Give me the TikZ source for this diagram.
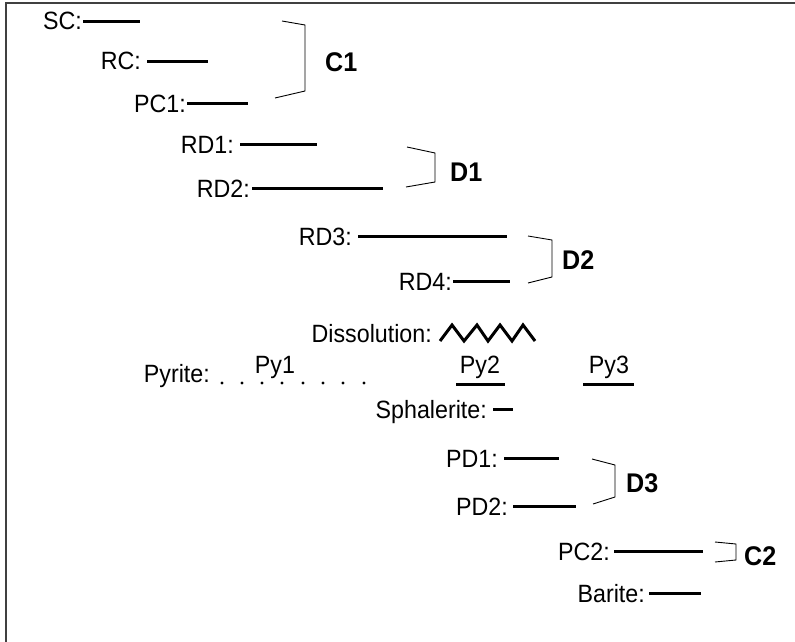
\documentclass[tikz,border=0pt]{standalone}
\usepackage{fontspec}
\setmainfont[FakeStretch=0.93]{Liberation Sans}
\begin{document}
\begin{tikzpicture}[x=1pt,y=-1pt,
  lbl/.style={inner sep=0pt, text height=16.5pt, text depth=0pt, anchor=base east, font=\fontsize{25}{30}\selectfont},
  plain/.style={inner sep=0pt, anchor=base, font=\fontsize{25}{30}\selectfont},
  grp/.style={inner sep=0pt, anchor=base west, font=\fontsize{27}{32}\selectfont\bfseries},
  bar/.style={line width=3pt},
  brk/.style={line width=0.9pt, line join=miter},
  frame/.style={line width=1.3pt, draw=black!75}]
\useasboundingbox (0,0) rectangle (795,642);
\draw[frame] (6,642) -- (6,3) -- (795,3);

% labels with bars
\node[lbl] (sc) at (82,30) {SC:};
\coordinate (sce) at (140,23);
\draw[bar] ([xshift=1pt]sc.east) -- (sc.east -| sce);

\node[lbl] (rc) at (141,70) {RC:};
\coordinate (rce) at (208,62);
\draw[bar] ([xshift=6pt]rc.east) -- (rc.east -| rce);

\node[lbl] (pc1) at (186,112) {PC1:};
\coordinate (pc1e) at (248,104);
\draw[bar] ([xshift=1pt]pc1.east) -- (pc1.east -| pc1e);

\node[lbl] (rd1) at (234,153) {RD1:};
\coordinate (rd1e) at (317,146);
\draw[bar] ([xshift=6pt]rd1.east) -- (rd1.east -| rd1e);

\node[lbl] (rd2) at (250,197) {RD2:};
\coordinate (rd2e) at (383,189);
\draw[bar] ([xshift=2pt]rd2.east) -- (rd2.east -| rd2e);

\node[lbl] (rd3) at (352,245) {RD3:};
\coordinate (rd3e) at (507,237);
\draw[bar] ([xshift=6pt]rd3.east) -- (rd3.east -| rd3e);

\node[lbl] (rd4) at (452,290) {RD4:};
\coordinate (rd4e) at (510,283);
\draw[bar] ([xshift=1pt]rd4.east) -- (rd4.east -| rd4e);

\node[lbl] (sph) at (487,418) {Sphalerite:};
\coordinate (sphe) at (513,413);
\draw[bar] ([xshift=6pt]sph.east) -- (sph.east -| sphe);

\node[lbl] (pd1) at (498,467) {PD1:};
\coordinate (pd1e) at (559,460);
\draw[bar] ([xshift=6pt]pd1.east) -- (pd1.east -| pd1e);

\node[lbl] (pd2) at (508,515) {PD2:};
\coordinate (pd2e) at (576,508);
\draw[bar] ([xshift=5pt]pd2.east) -- (pd2.east -| pd2e);

\node[lbl] (pc2) at (610,560) {PC2:};
\coordinate (pc2e) at (703,551);
\draw[bar] ([xshift=4pt]pc2.east) -- (pc2.east -| pc2e);

\node[lbl] (bar) at (645,602) {Barite:};
\coordinate (bare) at (701,595);
\draw[bar] ([xshift=4pt]bar.east) -- (bar.east -| bare);

% brackets and group labels
\draw[brk] (282,21) -- (305,25) -- (305,91) -- (275,98);
\node[grp] (c1) at (325,72) {C1};
\draw[brk] (407,147) -- (435,153) -- (435,182) -- (406,187);
\node[grp] (d1) at (450,181) {D1};
\draw[brk] (528,236) -- (552,240) -- (552,277) -- (528,283);
\node[grp] (d2) at (562,269) {D2};
\draw[brk] (592,459) -- (615,465) -- (615,497) -- (593,504);
\node[grp] (d3) at (626,492) {D3};
\draw[brk] (715,542) -- (736,544) -- (736,560) -- (715,562);
\node[grp] (c2) at (744,565) {C2};

% dissolution
\node[lbl] (diss) at (432,342) {Dissolution:};
\draw[line width=3pt, line join=miter, miter limit=4]
  (440,341) -- (452,325) -- (464,341) -- (477,325) -- (488,341) -- (500,325)
  -- (512,341) -- (523,325) -- (535,341);

% pyrite
\node[lbl] (pyr) at (210,382) {Pyrite:};
\foreach \x in {222,242,262,282,303,323,343,364}
  \fill (\x,383) circle (1.7);
\node[plain] (py1) at (275,373) {Py1};
\node[plain] (py2) at (480,373) {Py2};
\coordinate (py2a) at (456,384);
\coordinate (py2b) at (505,384);
\draw[bar] (py2a) -- (py2b);
\node[plain] (py3) at (609,373) {Py3};
\coordinate (py3a) at (583,384);
\coordinate (py3b) at (634,384);
\draw[bar] (py3a) -- (py3b);
\end{tikzpicture}
\end{document}
